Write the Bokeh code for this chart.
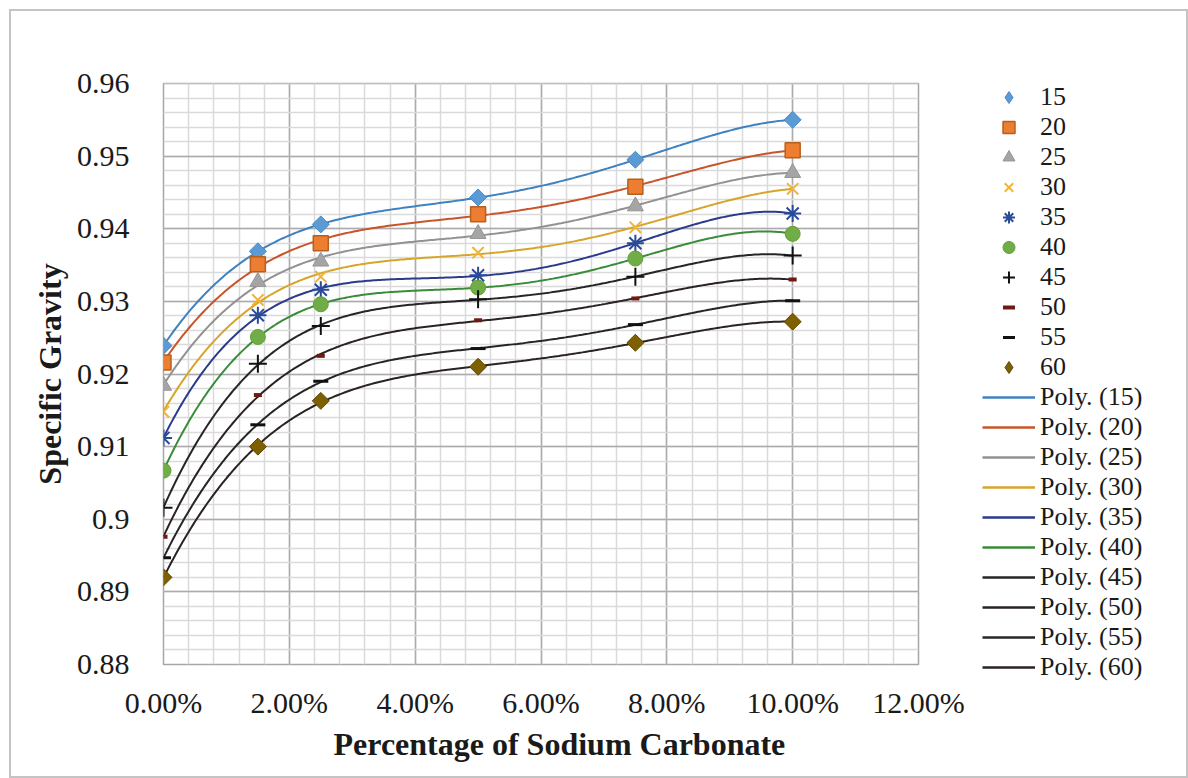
import numpy as np
from bokeh.plotting import figure
from bokeh.layouts import row, column
from bokeh.models import Legend, LegendItem, FixedTicker, Title
from bokeh.embed import file_html
from bokeh.resources import INLINE

# ---------------- data ----------------
x_pct = [0.0, 1.5, 2.5, 5.0, 7.5, 10.0]
sg_15 = [0.9239, 0.9369, 0.9406, 0.9443, 0.9495, 0.9550]
sg_20 = [0.9216, 0.9351, 0.9380, 0.9420, 0.9458, 0.9508]
sg_25 = [0.9184, 0.9327, 0.9355, 0.9393, 0.9431, 0.9477]
sg_30 = [0.9148, 0.9302, 0.9334, 0.9367, 0.9402, 0.9455]
sg_35 = [0.9112, 0.9281, 0.9316, 0.9336, 0.9380, 0.9421]
sg_40 = [0.9067, 0.9251, 0.9296, 0.9319, 0.9359, 0.9393]
sg_45 = [0.9016, 0.9214, 0.9266, 0.9303, 0.9334, 0.9363]
sg_50 = [0.8976, 0.9171, 0.9225, 0.9274, 0.9304, 0.9330]
sg_55 = [0.8947, 0.9130, 0.9190, 0.9235, 0.9268, 0.9301]
sg_60 = [0.8920, 0.9100, 0.9163, 0.9210, 0.9243, 0.9272]
series_names = ["15", "20", "25", "30", "35", "40", "45", "50", "55", "60"]
series_values = [sg_15, sg_20, sg_25, sg_30, sg_35, sg_40, sg_45, sg_50, sg_55, sg_60]

x_ticks = [0, 2, 4, 6, 8, 10, 12]
x_tick_labels = ["0.00%", "2.00%", "4.00%", "6.00%", "8.00%", "10.00%", "12.00%"]
y_ticks = [0.88, 0.89, 0.90, 0.91, 0.92, 0.93, 0.94, 0.95, 0.96]
y_tick_labels = ["0.88", "0.89", "0.9", "0.91", "0.92", "0.93", "0.94", "0.95", "0.96"]

# ---------------- styles ----------------
ROT = np.pi / 4
marker_styles = [
    dict(marker="square", angle=ROT, size=12, fill_color="#5B9BD5", line_color="#4A8AC4", line_width=1),
    dict(marker="square", size=15, fill_color="#ED7D31", line_color="#B5601F", line_width=1.5),
    dict(marker="triangle", size=16, fill_color="#A5A5A5", line_color="#959595", line_width=1),
    dict(marker="x", size=16, fill_color=None, line_color="#F2B431", line_width=2),
    dict(marker="asterisk", size=17, fill_color=None, line_color="#2A4A9A", line_width=2),
    dict(marker="circle", size=15, fill_color="#70AD47", line_color="#62A03A", line_width=1),
    dict(marker="cross", size=18, fill_color=None, line_color="#111111", line_width=2),
    dict(marker="dash", size=8, fill_color=None, line_color="#6E1A12", line_width=4),
    dict(marker="dash", size=15, fill_color=None, line_color="#111111", line_width=3),
    dict(marker="square", angle=ROT, size=12, fill_color="#7F6000", line_color="#5E4700", line_width=1),
]
trend_colors = ["#3F82C2", "#C8552A", "#929292", "#D7A52A", "#2C3A8C",
                "#3A8C3A", "#262626", "#2B2222", "#262626", "#2B2222"]

FONT = "Liberation Serif"
H = 765
W_MAIN, W_LEG = 960, 215
OX, OY = 11, 11  # page offset of the canvases

p = figure(width=W_MAIN, height=H, output_backend="svg", toolbar_location=None,
           x_range=(0, 12), y_range=(0.88, 0.96),
           min_border_left=163 - OX, min_border_right=(OX + W_MAIN) - 918,
           min_border_top=83 - OY, min_border_bottom=(OY + H) - 664,
           background_fill_color="white", border_fill_color="white")

p.outline_line_color = "#A6A6A6"
p.outline_line_width = 1.5

p.xaxis.ticker = FixedTicker(ticks=x_ticks, minor_ticks=list(np.arange(0, 12.01, 0.4)))
p.yaxis.ticker = FixedTicker(ticks=y_ticks, minor_ticks=list(np.arange(0.88, 0.9601, 0.002)))
p.xaxis.major_label_overrides = {t: l for t, l in zip(x_ticks, x_tick_labels)}
p.yaxis.major_label_overrides = {t: l for t, l in zip(y_ticks, y_tick_labels)}

for ax in (p.xaxis, p.yaxis):
    ax.axis_line_color = None
    ax.major_tick_line_color = None
    ax.minor_tick_line_color = None
    ax.major_label_text_font = FONT
    ax.major_label_text_font_size = "30px"
    ax.major_label_text_color = "#1a1a1a"
p.xaxis.major_label_standoff = 15
p.yaxis.major_label_standoff = 28

p.yaxis.axis_label = "Specific Gravity"
p.yaxis.axis_label_text_font = FONT
p.yaxis.axis_label_text_font_size = "32px"
p.yaxis.axis_label_text_font_style = "bold"
p.yaxis.axis_label_text_color = "#1a1a1a"
p.yaxis.axis_label_standoff = 6

for g in (p.xgrid, p.ygrid):
    g.grid_line_color = "#ABABAB"
    g.grid_line_width = 1.5
    g.minor_grid_line_color = "#DADADA"
    g.minor_grid_line_width = 1.5

# x axis title, placed like the reference (slightly right of the frame centre)
p.add_layout(Title(text="Percentage of Sodium Carbonate", align="left", offset=170,
                   text_font=FONT, text_font_size="32px", text_font_style="bold",
                   text_color="#1a1a1a", standoff=4), "below")

xs_fit = np.linspace(min(x_pct), max(x_pct), 300)
for vals, tc in zip(series_values, trend_colors):
    coef = np.polyfit(x_pct, vals, 4)
    p.line(xs_fit, np.polyval(coef, xs_fit), line_color=tc, line_width=2)
for vals, ms in zip(series_values, marker_styles):
    p.scatter(x_pct, vals, **ms)

# ---------------- legend panel ----------------
# a second canvas holds the legend; its renderers carry the same data but its
# ranges keep them out of view, so only the legend glyphs show.
LEG_LEFT, LEG_TOP = 982, 82
q = figure(width=W_LEG, height=H, output_backend="svg", toolbar_location=None,
           x_range=(50, 51), y_range=(50, 51), x_axis_type=None, y_axis_type=None,
           min_border_left=LEG_LEFT - (OX + W_MAIN), min_border_top=LEG_TOP - OY,
           min_border_right=0, min_border_bottom=0,
           background_fill_color="white", border_fill_color="white")
q.outline_line_color = None
q.grid.visible = False

marker_items, line_items = [], []
for name, vals, ms in zip(series_names, series_values, marker_styles):
    ms_leg = dict(ms)
    if ms_leg.get("angle"):
        ms_leg.pop("angle")
        ms_leg["marker"] = "diamond"
    r = q.scatter(x_pct, vals, **ms_leg)
    marker_items.append(LegendItem(label=name, renderers=[r]))
for name, vals, tc in zip(series_names, series_values, trend_colors):
    lr = q.line(x_pct, vals, line_color=tc, line_width=2.5)
    line_items.append(LegendItem(label=f"Poly. ({name})", renderers=[lr]))

legend = Legend(items=marker_items + line_items, location="top_left",
                glyph_width=53, glyph_height=30, label_height=30, spacing=0,
                label_standoff=5, padding=0, margin=0,
                label_text_font=FONT, label_text_font_size="26px",
                label_text_color="#1a1a1a",
                border_line_color=None, background_fill_alpha=0)
q.add_layout(legend, "center")

layout = row(column(p), column(q), spacing=0,
             styles={"border": "2px solid #C4C4C4", "margin-left": "9px", "margin-top": "9px"})

open("out.html", "w").write(file_html(layout, INLINE))
